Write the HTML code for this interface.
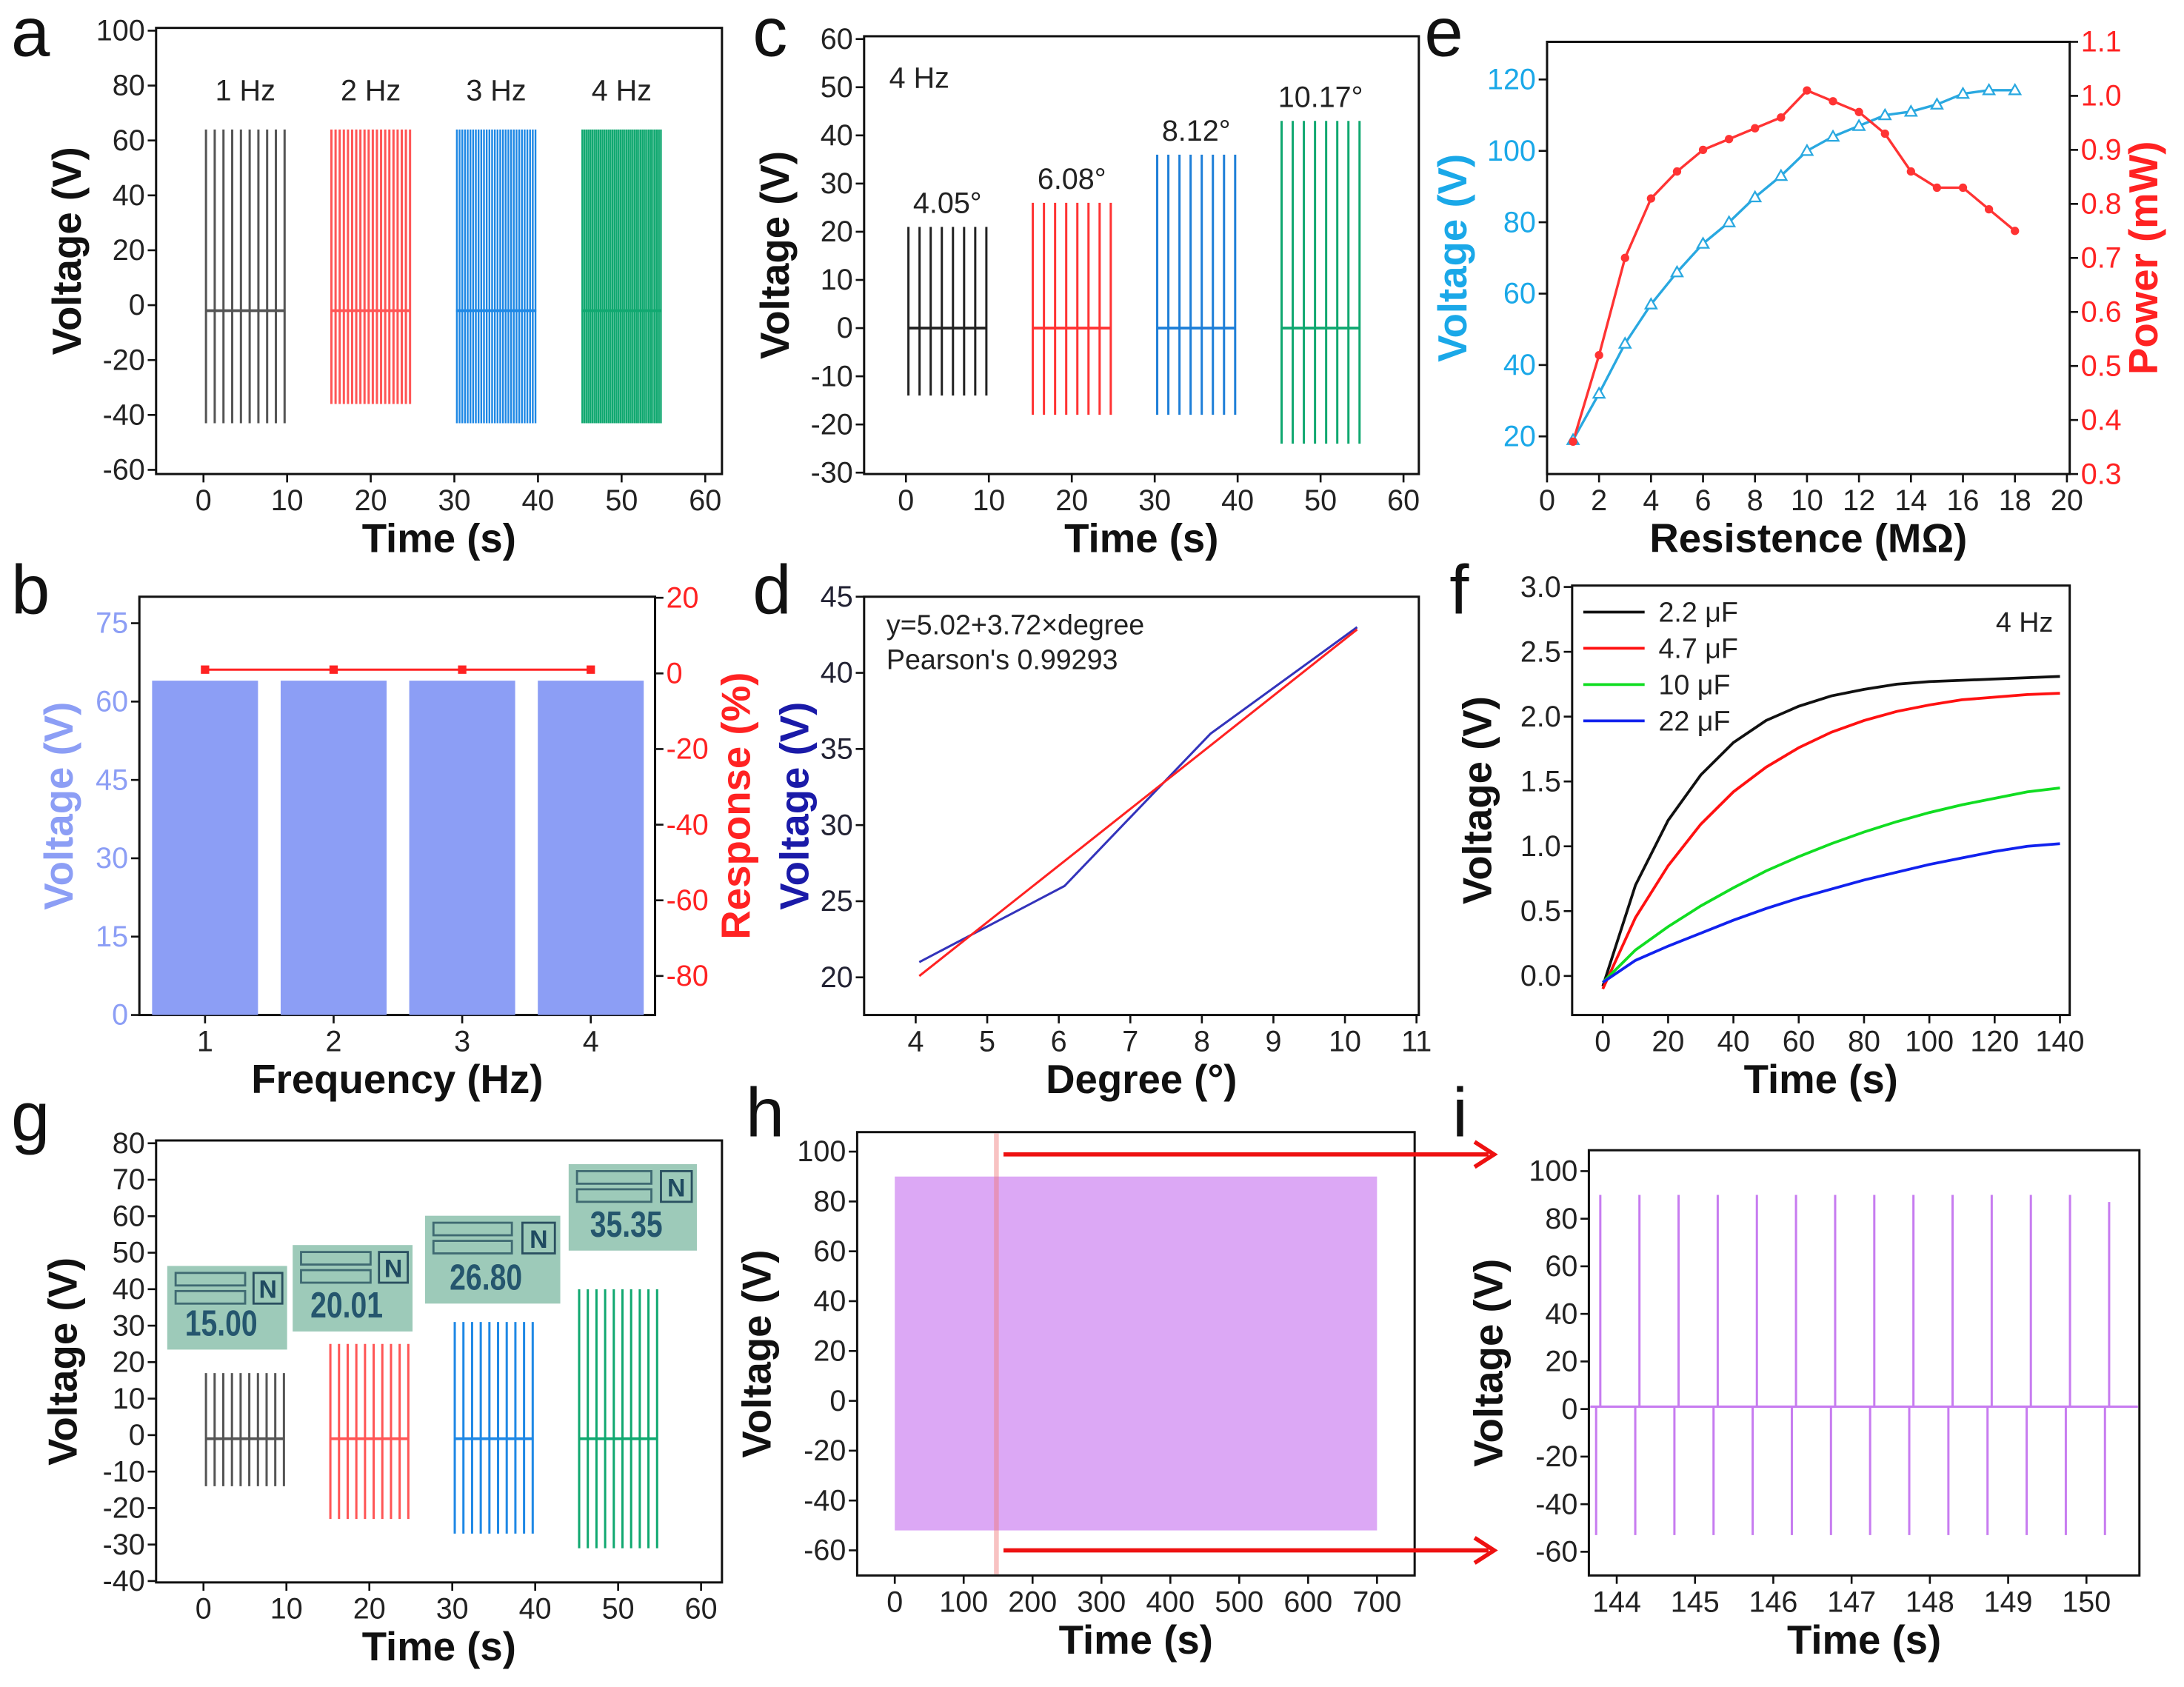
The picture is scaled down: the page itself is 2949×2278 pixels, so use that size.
<!DOCTYPE html>
<html><head><meta charset="utf-8"><style>
html,body{margin:0;padding:0;background:#fff;}
svg{display:block;font-family:"Liberation Sans",Arial,sans-serif;}
</style></head><body>
<svg id="fig" width="2949" height="2278" viewBox="0 0 1567 1210" preserveAspectRatio="none" xmlns="http://www.w3.org/2000/svg"></svg>
<script>
// ---------- data ----------
const aFreq=[1,2,3,4], aStart=[0,15,30,45], aTop=[64,64,64,64], aBot=[-43,-36,-43,-43];
const aLabels=["1 Hz","2 Hz","3 Hz","4 Hz"];
const cStart=[0,15,30,45], cTop=[21,26,36,43], cBot=[-14,-18,-18,-24];
const cLabels=["4.05°","6.08°","8.12°","10.17°"];
const eRes=[1,2,3,4,5,6,7,8,9,10,11,12,13,14,15,16,17,18];
const eVolt=[19,32,46,57,66,74,80,87,93,100,104,107,110,111,113,116,117,117];
const ePow=[0.36,0.52,0.70,0.81,0.86,0.90,0.92,0.94,0.96,1.01,0.99,0.97,0.93,0.86,0.83,0.83,0.79,0.75];
const bFreq=[1,2,3,4], bVolt=[64,64,64,64], bResp=[1,1,1,1];
const dDeg=[4.05,6.08,8.12,10.17], dVolt=[21,26,36,43];
const dFitA=5.02, dFitB=3.72;
const fTime=[0,10,20,30,40,50,60,70,80,90,100,110,120,130,140];
const fBlack=[-0.08,0.7,1.2,1.55,1.8,1.97,2.08,2.16,2.21,2.25,2.27,2.28,2.29,2.30,2.31];
const fRed=[-0.1,0.45,0.85,1.17,1.42,1.61,1.76,1.88,1.97,2.04,2.09,2.13,2.15,2.17,2.18];
const fGreen=[-0.05,0.2,0.38,0.54,0.68,0.81,0.92,1.02,1.11,1.19,1.26,1.32,1.37,1.42,1.45];
const fBlue=[-0.05,0.12,0.23,0.33,0.43,0.52,0.6,0.67,0.74,0.8,0.86,0.91,0.96,1.0,1.02];
const fLabels=["2.2 μF","4.7 μF","10 μF","22 μF"];
const gStart=[0,15,30,45], gTop=[17,25,31,40], gBot=[-14,-23,-27,-31];
const gReadings=["15.00","20.01","26.80","35.35"];
const hTop=[90], hBot=[-52], hStart=[0], hEnd=[700];
const iTimes=[143.79,144.29,144.79,145.29,145.79,146.29,146.79,147.29,147.79,148.29,148.79,149.29,149.79,150.29];
const iTop=[90,90,90,90,90,90,90,90,90,90,90,90,90,87];
const iBot=[-53,-53,-53,-53,-53,-53,-53,-53,-53,-53,-53,-53,-53,-53];

// ---------- helpers ----------
const NS="http://www.w3.org/2000/svg", S=document.getElementById('fig');
function mk(tag,attrs,name,parent){const e=document.createElementNS(NS,tag);for(const k in attrs)e.setAttribute(k,attrs[k]);


(parent||S).appendChild(e);return e;}
function txt(x,y,s,size,name,extra){const t=mk('text',Object.assign({x:x,y:y,'font-size':size},extra||{}),name);t.textContent=s;return t;}
function lin(d0,d1,p0,p1){return v=>p0+(v-d0)*(p1-p0)/(d1-d0);}
function line(x1,y1,x2,y2,col,w,name){return mk('line',{x1,y1,x2,y2,stroke:col,'stroke-width':w},name);}
function axes(o){
  mk('rect',{x:o.x0,y:o.y0,width:o.x1-o.x0,height:o.y1-o.y0,fill:'none',stroke:'#111','stroke-width':1.6},o.p+'-frame');
  o.xt.forEach((v,i)=>{const x=o.xs(v);line(x,o.y1,x,o.y1+6,'#111',1.4,o.p+'-x-tick');
    txt(x,o.y1+26,o.xl?o.xl[i]:String(v),21,o.p+'-x-tick-label',{'text-anchor':'middle',fill:'#222'});});
  o.yt.forEach(v=>{const y=o.ys(v);line(o.x0-6,y,o.x0,y,'#111',1.4,o.p+'-y-tick');
    txt(o.x0-8,y+7,o.yf?v.toFixed(o.yf):String(v),21,o.p+'-y-tick-label',{'text-anchor':'end',fill:o.yc||'#222'});});
  if(o.rt)o.rt.forEach(v=>{const y=o.rs(v);line(o.x1,y,o.x1+6,y,'#111',1.4,o.p+'-right-tick');
    txt(o.x1+8,y+7,o.rf?v.toFixed(o.rf):String(v),21,o.p+'-right-tick-label',{'text-anchor':'start',fill:o.rc});});
  txt((o.x0+o.x1)/2,o.y1+56,o.xTitle,29,o.p+'-x-axis-title',{'text-anchor':'middle','font-weight':'bold',fill:'#111'});
  const ym=(o.y0+o.y1)/2;
  txt(0,0,o.yTitle,29,o.p+'-y-axis-title',{'text-anchor':'middle','font-weight':'bold',fill:o.ytc||'#111',transform:`translate(${o.ytx},${ym}) rotate(-90)`});
  if(o.rTitle)txt(0,0,o.rTitle,29,o.p+'-right-axis-title',{'text-anchor':'middle','font-weight':'bold',fill:o.rc,transform:`translate(${o.rtx},${ym}) rotate(-90)`});
}
function letter(x,y,s){txt(x,y,s,50,'panel-label-'+s,{fill:'#111'});}
function bursts(p,xs,ys,starts,tops,bots,counts,cols,base){
  starts.forEach((s,i)=>{const n=counts[i];
    line(xs(s+0.2),ys(base),xs(s+9.8),ys(base),cols[i],2,p+'-baseline');
    for(let k=0;k<n;k++){const x=xs(s+0.3+k*9.4/(n-1));
      line(x,ys(tops[i]),x,ys(bots[i]),cols[i],n>25?1.3:1.6,p+'-pulse');}});
}
const burstCols=['#555','#f55','#1e88e5','#10a870'];

// ---------- panel a ----------
{const xs=lin(0,60,146,506), ys=lin(100,-60,22,337);
axes({p:'a',x0:112,x1:518,y0:20,y1:340,xs,ys,xt:[0,10,20,30,40,50,60],yt:[100,80,60,40,20,0,-20,-40,-60],xTitle:'Time (s)',yTitle:'Voltage (V)',ytx:58});
bursts('a',xs,ys,aStart,aTop,aBot,aFreq.map(f=>f*10),burstCols,-2);
aLabels.forEach((l,i)=>txt(xs(aStart[i]+5),72,l,21,'a-frequency-label',{'text-anchor':'middle',fill:'#222'}));
letter(8,40,'a');}

// ---------- panel c ----------
{const xs=lin(0,60,650,1007), ys=lin(60,-30,28,339);
axes({p:'c',x0:620,x1:1018,y0:26,y1:340,xs,ys,xt:[0,10,20,30,40,50,60],yt:[60,50,40,30,20,10,0,-10,-20,-30],xTitle:'Time (s)',yTitle:'Voltage (V)',ytx:566});
bursts('c',xs,ys,cStart,cTop,cBot,[8,8,8,8],['#222','#f33','#1e7fd8','#10a870'],0);
cLabels.forEach((l,i)=>txt(xs(cStart[i]+5),ys(cTop[i])-10,l,21,'c-angle-label',{'text-anchor':'middle',fill:'#222'}));
txt(638,63,'4 Hz',21,'c-frequency-label',{fill:'#222'});
letter(540,40,'c');}

// ---------- panel e ----------
{const xs=lin(0,20,1110,1483), ys=lin(20,120,313,57), rs=lin(1.1,0.3,30,340);
axes({p:'e',x0:1110,x1:1485,y0:30,y1:340,xs,ys,xt:[0,2,4,6,8,10,12,14,16,18,20],yt:[20,40,60,80,100,120],yc:'#1aa8e8',ytc:'#1aa8e8',
 rt:[0.3,0.4,0.5,0.6,0.7,0.8,0.9,1.0,1.1],rf:1,rs,rc:'#f22',rTitle:'Power (mW)',rtx:1548,xTitle:'Resistence (MΩ)',yTitle:'Voltage (V)',ytx:1052});
mk('polyline',{points:eRes.map((r,i)=>xs(r)+','+ys(eVolt[i])).join(' '),fill:'none',stroke:'#29a8e0','stroke-width':1.8},'e-voltage-line');
mk('polyline',{points:eRes.map((r,i)=>xs(r)+','+rs(ePow[i])).join(' '),fill:'none',stroke:'#f33','stroke-width':1.8},'e-power-line');
eRes.forEach((r,i)=>{const x=xs(r),y=ys(eVolt[i]);
 mk('path',{d:`M${x},${y-4}L${x+4},${y+3}L${x-4},${y+3}Z`,fill:'#fff',stroke:'#29a8e0','stroke-width':1.2},'e-voltage-point');
 mk('circle',{cx:x,cy:rs(ePow[i]),r:3,fill:'#f33'},'e-power-point');});
letter(1022,40,'e');}

// ---------- panel b ----------
{const xs=lin(0.5,4.5,101,470), ys=lin(0,75,728,447), rs=lin(0,-80,483,700);
axes({p:'b',x0:100,x1:470,y0:428,y1:728,xs,ys,xt:bFreq,yt:[0,15,30,45,60,75],yc:'#8c9ef5',ytc:'#8c9ef5',
 rt:[20,0,-20,-40,-60,-80],rs,rc:'#f22',rTitle:'Response (%)',rtx:538,xTitle:'Frequency (Hz)',yTitle:'Voltage (V)',ytx:52});
bFreq.forEach((f,i)=>mk('rect',{x:xs(f)-38,y:ys(bVolt[i]),width:76,height:728-ys(bVolt[i]),fill:'#8c9ef5'},'b-voltage-bar'));
mk('polyline',{points:bFreq.map((f,i)=>xs(f)+','+rs(bResp[i])).join(' '),fill:'none',stroke:'#f22','stroke-width':1.6},'b-response-line');
bFreq.forEach((f,i)=>mk('rect',{x:xs(f)-3,y:rs(bResp[i])-3,width:6,height:6,fill:'#f22'},'b-response-point'));
letter(8,440,'b');}

// ---------- panel d ----------
{const xs=lin(4,10,657,965), ys=lin(45,20,428,701);
axes({p:'d',x0:620,x1:1018,y0:428,y1:728,xs,ys,xt:[4,5,6,7,8,9,10,11],yt:[20,25,30,35,40,45],yc:'#223',ytc:'#1a1aa8',xTitle:'Degree (°)',yTitle:'Voltage (V)',ytx:580});
mk('polyline',{points:dDeg.map((d,i)=>xs(d)+','+ys(dVolt[i])).join(' '),fill:'none',stroke:'#3333bb','stroke-width':1.6},'d-data-line');
const f0=dDeg[0],f1=dDeg[dDeg.length-1];
line(xs(f0),ys(dFitA+dFitB*f0),xs(f1),ys(dFitA+dFitB*f1),'#f22',1.6,'d-fit-line');
txt(636,455,'y=5.02+3.72×degree',20,'d-fit-equation',{fill:'#222'});
txt(636,480,"Pearson's 0.99293",20,'d-pearson-label',{fill:'#222'});
letter(540,440,'d');}

// ---------- panel f ----------
{const xs=lin(0,140,1150,1478), ys=lin(0,3,700,421);
axes({p:'f',x0:1128,x1:1485,y0:420,y1:728,xs,ys,xt:[0,20,40,60,80,100,120,140],yt:[0,0.5,1,1.5,2,2.5,3],yf:1,xTitle:'Time (s)',yTitle:'Voltage (V)',ytx:1070});
const series=[fBlack,fRed,fGreen,fBlue], cols=['#111','#f11','#11dd22','#1122ee'];
series.forEach((s,j)=>mk('polyline',{points:fTime.map((t,i)=>xs(t)+','+ys(s[i])).join(' '),fill:'none',stroke:cols[j],'stroke-width':2},'f-curve-'+j));
fLabels.forEach((l,j)=>{line(1136,439+j*26,1180,439+j*26,cols[j],2,'f-legend-line');
 txt(1190,446+j*26,l,20,'f-legend-entry',{fill:'#222'});});
txt(1432,453,'4 Hz',20,'f-frequency-label',{fill:'#222'});
letter(1040,440,'f');}

// ---------- panel g ----------
{const xs=lin(0,60,146,503), ys=lin(80,-40,820,1134);
axes({p:'g',x0:112,x1:518,y0:818,y1:1135,xs,ys,xt:[0,10,20,30,40,50,60],yt:[80,70,60,50,40,30,20,10,0,-10,-20,-30,-40],xTitle:'Time (s)',yTitle:'Voltage (V)',ytx:55});
bursts('g',xs,ys,gStart,gTop,gBot,[10,10,10,10],burstCols,-1);
const boxes=[[120,908,86,60],[210,893,86,62],[305,872,97,63],[408,835,92,62]];
gReadings.forEach((r,i)=>{const [x,y,w,h]=boxes[i];
 mk('rect',{x,y,width:w,height:h,fill:'#9dcab9'},'g-meter-display');
 mk('rect',{x:x+6,y:y+5,width:w*0.58,height:9,fill:'none',stroke:'#3f6a72','stroke-width':1.5},'g-meter-segment');
 mk('rect',{x:x+6,y:y+18,width:w*0.58,height:9,fill:'none',stroke:'#3f6a72','stroke-width':1.5},'g-meter-segment');
 mk('rect',{x:x+w*0.72,y:y+5,width:w*0.24,height:22,fill:'none',stroke:'#2a4f60','stroke-width':1.5},'g-meter-mode-box');
 txt(x+w*0.84,y+23,'N',18,'g-meter-mode',{'text-anchor':'middle','font-weight':'bold',fill:'#1f4a60'});
 txt(x+w*0.45,y+h-10,r,26,'g-meter-reading',{'text-anchor':'middle','font-weight':'bold',fill:'#25566e',transform:`translate(${x+w*0.45},0) scale(0.8,1) translate(${-(x+w*0.45)},0)`});});
letter(8,818,'g');}

// ---------- panel h ----------
{const xs=lin(0,700,642,988), ys=lin(100,-60,826,1112);
axes({p:'h',x0:615,x1:1015,y0:812,y1:1130,xs,ys,xt:[0,100,200,300,400,500,600,700],yt:[100,80,60,40,20,0,-20,-40,-60],xTitle:'Time (s)',yTitle:'Voltage (V)',ytx:553});
mk('rect',{x:xs(hStart[0]),y:ys(hTop[0]),width:xs(hEnd[0])-xs(hStart[0]),height:ys(hBot[0])-ys(hTop[0]),fill:'#dca8f5'},'h-signal-envelope');
mk('rect',{x:xs(144),y:813,width:xs(151)-xs(144),height:316,fill:'rgba(240,120,120,0.45)'},'h-zoom-highlight');
[828,1112].forEach(y=>{line(720,y,1068,y,'#ee1111',3,'h-zoom-arrow-shaft');
 mk('path',{d:`M1058,${y-9}L1072,${y}L1058,${y+9}`,fill:'none',stroke:'#ee1111','stroke-width':3},'h-zoom-arrow-head');});
letter(535,815,'h');}

// ---------- panel i ----------
{const xs=lin(144,150,1160,1497), ys=lin(100,-60,840,1113);
axes({p:'i',x0:1140,x1:1535,y0:825,y1:1130,xs,ys,xt:[144,145,146,147,148,149,150],yt:[100,80,60,40,20,0,-20,-40,-60],xTitle:'Time (s)',yTitle:'Voltage (V)',ytx:1078});
line(1141,ys(1),1534,ys(1),'#c77cf0',1.6,'i-baseline');
iTimes.forEach((t,k)=>{const x=xs(t);line(x,ys(iTop[k]),x,ys(1),'#c77cf0',1.6,'i-positive-spike');
 line(x-3,ys(1),x-3,ys(iBot[k]),'#c77cf0',1.6,'i-negative-spike');});
letter(1042,815,'i');}
</script>
</body></html>
